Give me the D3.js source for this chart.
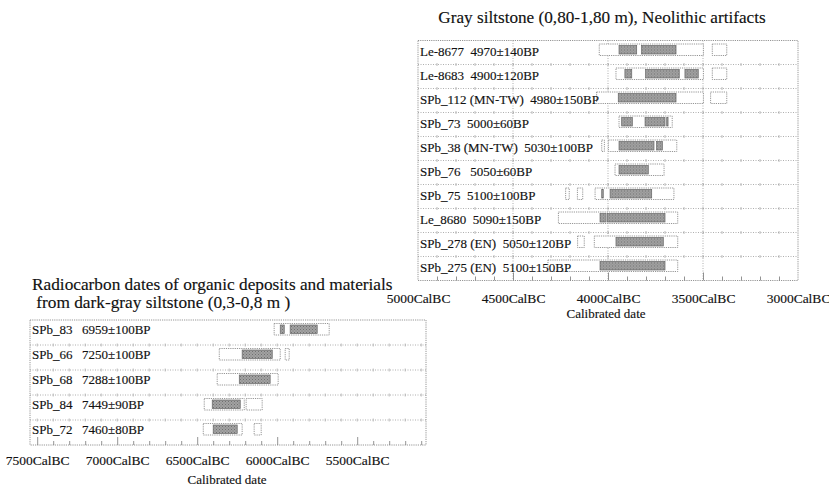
<!DOCTYPE html>
<html><head><meta charset="utf-8">
<script src="https://cdn.jsdelivr.net/npm/d3@7"></script>
<style>
html,body{margin:0;padding:0;background:#fff;}
svg text{font-family:"Liberation Serif","DejaVu Serif",serif;fill:#111;stroke:#111;stroke-width:0.15px;}
</style></head>
<body>
<svg id="c" width="829" height="488"></svg>
<script>
// ---------- Upper chart data (years CalBC) ----------
const upperTitle = "Gray siltstone (0,80-1,80 m), Neolithic artifacts";
const upperLabels = [
  "Le-8677  4970±140BP",
  "Le-8683  4900±120BP",
  "SPb_112 (MN-TW)  4980±150BP",
  "SPb_73  5000±60BP",
  "SPb_38 (MN-TW)  5030±100BP",
  "SPb_76   5050±60BP",
  "SPb_75  5100±100BP",
  "Le_8680  5090±150BP",
  "SPb_278 (EN)  5050±120BP",
  "SPb_275 (EN)  5100±150BP"
];
// 95.4% ranges
const upperOuter = [
  [[4046,3498],[3451,3375]],
  [[3958,3498],[3451,3375]],
  [[4060,3498],[3460,3375]],
  [[3942,3662]],
  [[4033,4019],[3998,3638]],
  [[3963,3705]],
  [[4223,4204],[4161,4133],[4068,3653]],
  [[4261,3633]],
  [[4160,4125],[4072,3633]],
  [[4316,3633]]
];
// 68.2% ranges
const upperInner = [
  [[3942,3849],[3823,3642]],
  [[3911,3875],[3802,3625],[3595,3525]],
  [[3946,3642]],
  [[3928,3872],[3805,3700],[3691,3684]],
  [[3942,3758],[3744,3714]],
  [[3942,3788]],
  [[4033,4025],[3989,3770]],
  [[4042,4010],[4003,3700]],
  [[3958,3709]],
  [[4042,3700]]
];
const upperTicks = [5000,4500,4000,3500,3000];

// ---------- Lower chart data ----------
const lowerTitle = ["Radiocarbon dates of organic deposits and materials",
                    " from dark-gray siltstone (0,3-0,8 m )"];
const lowerNames = ["SPb_83","SPb_66","SPb_68","SPb_84","SPb_72"];
const lowerDates = ["6959±100BP","7250±100BP","7288±100BP","7449±90BP","7460±80BP"];
const lowerOuter = [
  [[6019,5675]],
  [[6362,5981],[5950,5925]],
  [[6375,5994]],
  [[6456,6206],[6194,6094]],
  [[6462,6219],[6144,6100]]
];
const lowerInner = [
  [[5981,5956],[5919,5750]],
  [[6219,6031]],
  [[6237,6044]],
  [[6406,6231]],
  [[6400,6250]]
];
const lowerTicks = [7500,7000,6500,6000,5500];

const axisTitle = "Calibrated date";
const fmt = d => d + "CalBC";

const svg = d3.select("#c");

// hatched gray fill
const defs = svg.append("defs");
const pat = defs.append("pattern").attr("id", "hatch").attr("patternUnits", "userSpaceOnUse")
  .attr("width", 3).attr("height", 3);
pat.append("rect").attr("width", 3).attr("height", 3).attr("fill", "#a2a2a2");
pat.append("rect").attr("x", 0).attr("y", 0).attr("width", 1).attr("height", 1).attr("fill", "#707070");
pat.append("rect").attr("x", 1.5).attr("y", 1.5).attr("width", 1).attr("height", 1).attr("fill", "#7a7a7a");

function panel(o){
  const g = svg.append("g");
  const x = d3.scaleLinear().domain(o.domain).range([o.left, o.right]);
  const n = o.labels.length;
  const y = d3.scaleBand().domain(d3.range(n)).range([o.top, o.bottom]).paddingInner(0).paddingOuter(0);
  const rh = y.step();
  const minor = d3.range(Math.ceil(Math.min(...o.domain)/100)*100, Math.max(...o.domain)+1, 100)
      .filter(v => x(v) > o.left + 1 && x(v) < o.right - 1);

  // row lines
  g.selectAll(".rl").data(d3.range(1, n)).enter().append("line")
    .attr("x1", o.left).attr("x2", o.right)
    .attr("y1", d => o.top + d*rh).attr("y2", d => o.top + d*rh)
    .attr("stroke", "#9a9a9a").attr("stroke-width", 0.8).attr("stroke-dasharray", "1,1.5");
  // minor cross ticks on row lines
  d3.range(1, n).forEach(r => {
    g.selectAll(null).data(minor).enter().append("line")
      .attr("x1", d => x(d)).attr("x2", d => x(d))
      .attr("y1", o.top + r*rh - 1.5).attr("y2", o.top + r*rh + 1.5)
      .attr("stroke", "#aaa").attr("stroke-width", 0.8);
  });
  // vertical gridlines
  if (o.vgrid) {
    g.selectAll(".vg").data(o.ticks.filter(t => x(t) > o.left + 2 && x(t) < o.right - 2)).enter().append("line")
      .attr("x1", d => x(d)).attr("x2", d => x(d))
      .attr("y1", o.top).attr("y2", o.bottom)
      .attr("stroke", "#9a9a9a").attr("stroke-width", 0.8).attr("stroke-dasharray", "1,1.5");
  }
  // frame
  g.append("rect").attr("x", o.left).attr("y", o.top)
    .attr("width", o.right - o.left).attr("height", o.bottom - o.top)
    .attr("fill", "none").attr("stroke", "#8a8a8a").attr("stroke-width", 0.9).attr("stroke-dasharray", "1.2,1");

  // bottom axis ticks
  const ax = d3.axisBottom(x).tickValues(minor).tickSize(-4).tickFormat("");
  const axg = g.append("g").attr("transform", `translate(0,${o.bottom})`).call(ax);
  axg.select(".domain").remove();
  axg.selectAll(".tick line").attr("stroke", "#777").attr("stroke-width", 0.8)
    .attr("y2", d => o.ticks.includes(d) ? -8 : -4);
  // tick labels
  const lab = d3.axisBottom(x).tickValues(o.ticks).tickSize(0).tickFormat(fmt);
  const lg = g.append("g").attr("transform", `translate(0,${o.labelY})`).call(lab);
  lg.select(".domain").remove();
  lg.selectAll(".tick text").attr("dy", 0).attr("y", 0)
    .style("font-family", '"Liberation Serif",serif').style("font-size", "13.5px").attr("fill", "#111");
  g.append("text").attr("x", o.axisTitleX).attr("y", o.axisTitleY)
    .attr("text-anchor", "middle").style("font-size", "13px").text(axisTitle);

  // bars
  const rows = g.selectAll(".row").data(o.labels).enter().append("g")
    .attr("transform", (d, i) => `translate(0,${y(i)})`);
  rows.each(function(d, i){
    const r = d3.select(this);
    r.selectAll(".ob").data(o.outer[i]).enter().append("rect")
      .attr("x", v => x(v[0])).attr("width", v => x(v[1]) - x(v[0]))
      .attr("y", 3.5).attr("height", 11.5)
      .attr("fill", "#fff").attr("stroke", "#8a8a8a").attr("stroke-width", 0.9).attr("stroke-dasharray", "1.2,1");
    r.selectAll(".ib").data(o.inner[i]).enter().append("rect")
      .attr("x", v => x(v[0])).attr("width", v => Math.max(1.2, x(v[1]) - x(v[0])))
      .attr("y", 5).attr("height", 8.5)
      .attr("fill", "url(#hatch)").attr("stroke", "#666").attr("stroke-width", 0.7);
  });
  return {g, rows, x, y, rh};
}

// Upper panel
const up = panel({
  domain:[5000,3000], left:418, right:798, top:40.5, bottom:280.5,
  labels: upperLabels, outer: upperOuter, inner: upperInner, ticks: upperTicks,
  vgrid: true, labelY: 303, axisTitleX: 606, axisTitleY: 318
});
up.rows.append("text").attr("x", 420).attr("y", 15)
  .attr("xml:space", "preserve").style("white-space", "pre").style("font-size", "13px")
  .text(d => d);
svg.append("text").attr("x", 602).attr("y", 23).attr("text-anchor", "middle")
  .style("font-size", "17.2px").text(upperTitle);

// Lower panel
const lo = panel({
  domain:[7545,5070], left:30, right:426, top:320, bottom:445,
  labels: lowerNames, outer: lowerOuter, inner: lowerInner, ticks: lowerTicks,
  vgrid: false, labelY: 465, axisTitleX: 227, axisTitleY: 484
});
lo.rows.append("text").attr("x", 32).attr("y", 14).style("font-size", "13px").text(d => d);
lo.rows.append("text").attr("x", 82).attr("y", 14).style("font-size", "13px").text((d, i) => lowerDates[i]);
svg.append("text").attr("x", 32).attr("y", 290).style("font-size", "17.3px").text(lowerTitle[0]);
svg.append("text").attr("x", 32).attr("y", 308).attr("xml:space", "preserve").style("white-space", "pre")
  .style("font-size", "17.3px").text(lowerTitle[1]);
</script>
</body></html>
